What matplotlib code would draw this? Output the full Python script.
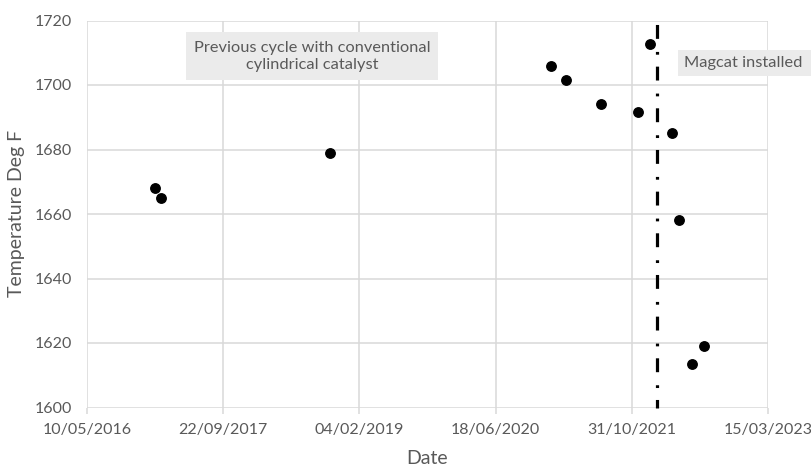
import matplotlib
matplotlib.use("Agg")
import matplotlib.pyplot as plt
import matplotlib.dates as mdates
from matplotlib.patches import Rectangle
import numpy as np

plt.rcParams['font.family'] = ['Lato', 'DejaVu Sans']
plt.rcParams['lines.scale_dashes'] = False

dates = ["2017-01-15", "2017-02-05", "2018-10-19", "2021-01-07", "2021-03-03",
         "2021-07-10", "2021-11-24", "2022-01-05", "2022-03-28", "2022-04-21",
         "2022-06-08", "2022-07-23"]
temps = [1668, 1665, 1679, 1706, 1701.5, 1694, 1691.6, 1712.6, 1685, 1658, 1613.5, 1619]
install_date = "2022-02-02"
tick_dates = ["2016-05-10", "2017-09-22", "2019-02-04", "2020-06-18", "2021-10-31", "2023-03-15"]
y_ticks = [1600, 1620, 1640, 1660, 1680, 1700, 1720]

gray_text = '#595959'
grid_col = '#d9d9d9'
box_col = '#ebebeb'

W, H = 812, 467
fig = plt.figure(figsize=(W/100, H/100), dpi=100)
L, R, T, B = 87, 768, 20.5, 407.5
ax = fig.add_axes([L/W, 1-B/H, (R-L)/W, (B-T)/H])

x = np.array(dates, dtype='datetime64[D]').astype('O')
xt = np.array(tick_dates, dtype='datetime64[D]').astype('O')
xi = np.datetime64(install_date, 'D').astype('O')

ax.plot(x, temps, 'o', color='black', markersize=6.8, zorder=3)
ax.plot([xi, xi], [y_ticks[-1], y_ticks[0]], color='black', linewidth=2.3,
        linestyle=(27.5, (10, 9.4, 2, 8.6)), zorder=2, clip_on=False)

ax.set_xlim(xt[0], xt[-1])
ax.set_ylim(y_ticks[0], y_ticks[-1])
ax.set_xticks(xt)
ax.xaxis.set_major_formatter(mdates.DateFormatter('%d/%m/%Y'))
ax.set_yticks(y_ticks)

ax.grid(True, color=grid_col, linewidth=1.1)
ax.set_axisbelow(True)
for s in ax.spines.values():
    s.set_visible(False)
ax.tick_params(axis='y', length=0, labelsize=11.5, labelcolor=gray_text, pad=11)
ax.tick_params(axis='x', length=4, width=1.1, color=grid_col, labelsize=11.5,
               labelcolor=gray_text, pad=7.5)

ax.set_xlabel('Date', fontsize=14, color=gray_text)
ax.set_ylabel('Temperature Deg F', fontsize=14, color=gray_text)
ax.xaxis.set_label_coords((427.5 - L)/(R - L), -(458 - B)/(B - T))
ax.xaxis.label.set_va('center')
ax.yaxis.set_label_coords(-(L - 17)/(R - L), (B - 213)/(B - T))
ax.yaxis.label.set_va('center')

def fig_box(x0, y0, x1, y1):
    fig.patches.append(Rectangle((x0/W, 1-y1/H), (x1-x0)/W, (y1-y0)/H,
                                 transform=fig.transFigure, facecolor=box_col,
                                 edgecolor='none', zorder=5))

fig_box(186, 32, 438, 80)
fig.text(312/W, 1-56.5/H, 'Previous cycle with conventional\ncylindrical catalyst',
         ha='center', va='center', fontsize=11.8, color=gray_text, linespacing=1.35,
         zorder=6)
fig_box(678, 50, 812, 75.5)
fig.text(743/W, 1-63/H, 'Magcat installed', ha='center', va='center',
         fontsize=11.8, color=gray_text, zorder=6)

fig.savefig('out.png', dpi=100)
